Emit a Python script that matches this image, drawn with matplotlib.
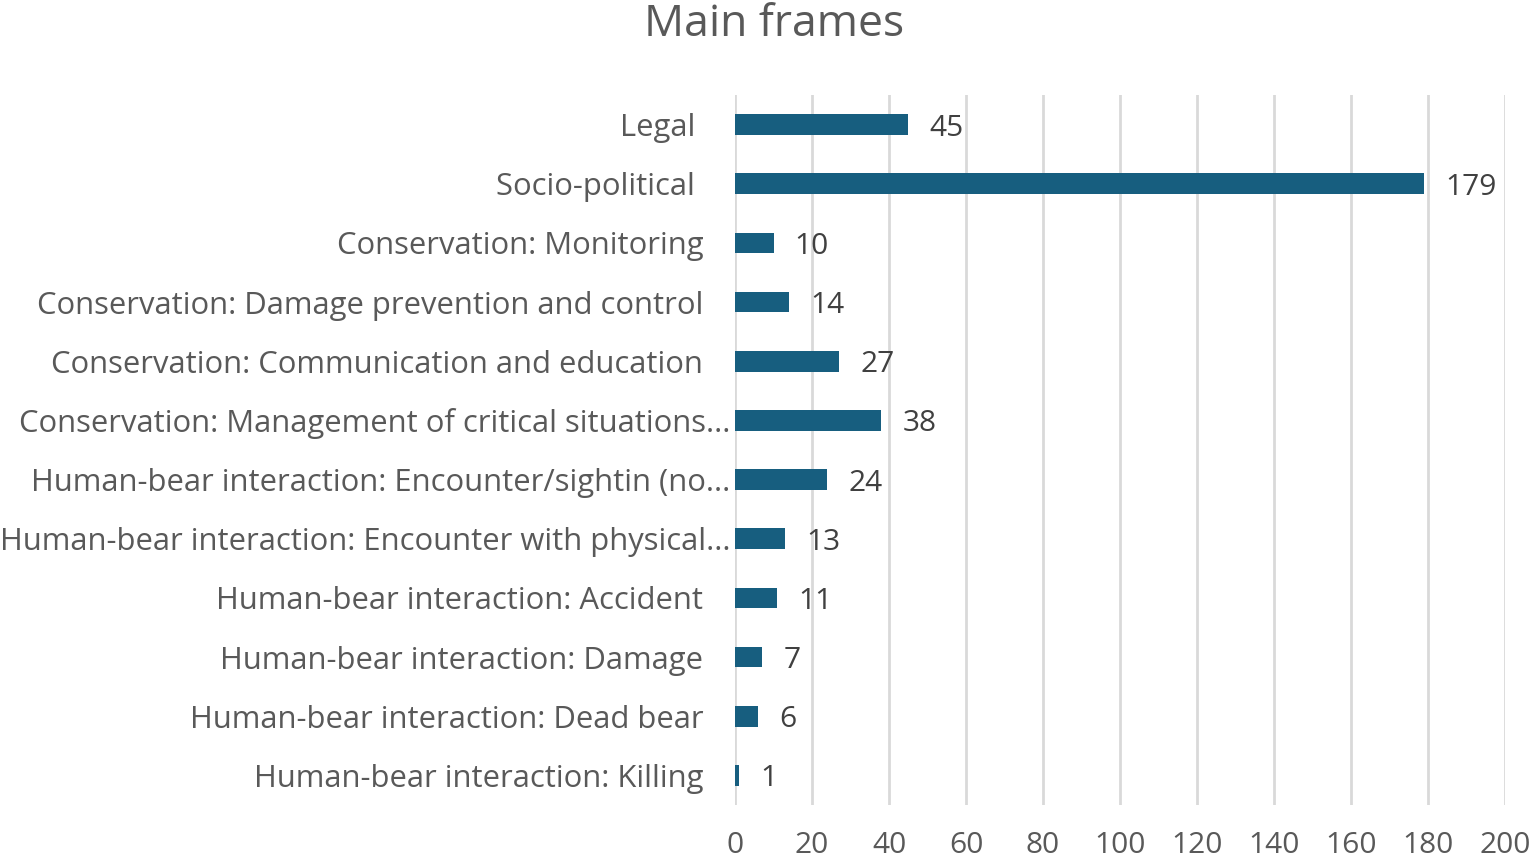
import matplotlib.pyplot as plt
from matplotlib.transforms import ScaledTranslation

categories = [
    'Legal ',
    'Socio-political ',
    'Conservation: Monitoring',
    'Conservation: Damage prevention and control',
    'Conservation: Communication and education',
    'Conservation: Management of critical situations...',
    'Human-bear interaction: Encounter/sightin (no...',
    'Human-bear interaction: Encounter with physical...',
    'Human-bear interaction: Accident',
    'Human-bear interaction: Damage',
    'Human-bear interaction: Dead bear',
    'Human-bear interaction: Killing',
]
counts = [45, 179, 10, 14, 27, 38, 24, 13, 11, 7, 6, 1]
xticks = list(range(0, 201, 20))

bar_color = '#175e7f'
text_color = '#595959'

plt.rcParams['font.family'] = ['Open Sans', 'DejaVu Sans']

fig = plt.figure(figsize=(15.33, 8.58), dpi=100)
ax = fig.add_axes([0.4795, 0.0618, 0.5022, 0.8275])

ypos = list(range(len(categories)))
ax.barh(ypos, counts, height=0.35, color=bar_color, zorder=3)
for y, v in zip(ypos, counts):
    ax.text(v + 5.5, y, str(v), va='center_baseline', ha='left', fontsize=21.5,
            color='#404040')

ax.set_yticks(ypos)
ax.set_yticklabels(categories, fontsize=22.3, color=text_color)
ax.set_ylim(11.5, -0.5)
ax.set_xlim(0, 200)
ax.set_xticks(xticks)
ax.set_xticklabels([str(t) for t in xticks], fontsize=21.5, color=text_color)
ax.tick_params(axis='both', length=0)
ax.tick_params(axis='y', pad=23)
ax.tick_params(axis='x', pad=18.5)
ax.grid(axis='x', color='#d9d9d9', linewidth=2, zorder=0)
for s in ax.spines.values():
    s.set_visible(False)

# truncated labels sit closer to the axis
for lab in ax.get_yticklabels():
    if lab.get_text().endswith('...'):
        lab.set_transform(lab.get_transform() + ScaledTranslation(0.27, 0, fig.dpi_scale_trans))

fig.text(0.505, 0.997, 'Main frames', ha='center', va='top', fontsize=32,
         color=text_color)

fig.savefig('out.png', dpi=100)
